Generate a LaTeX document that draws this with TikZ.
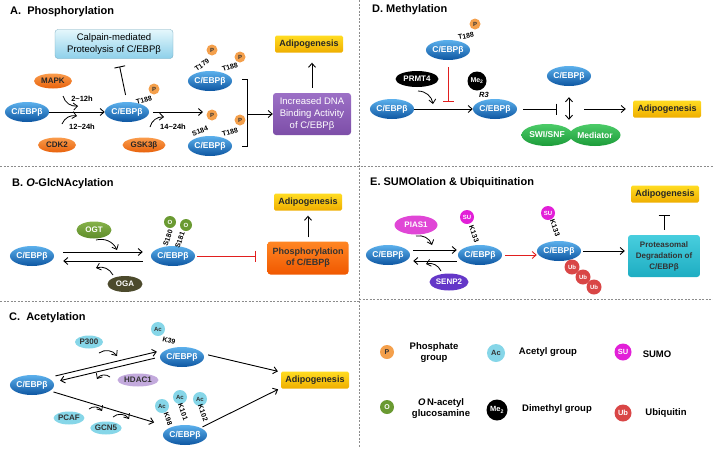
\documentclass[tikz,border=0pt]{standalone}
\usepackage{fontspec}
\setmainfont{Liberation Sans}
\usepackage{tikz}
\usetikzlibrary{positioning}
\usetikzlibrary{arrows.meta,shapes.geometric,calc}

% ------------------------------------------------
% Colours
\definecolor{cebpTop}{HTML}{5CB0EC}
\definecolor{cebpBot}{HTML}{0D56A2}
\definecolor{kinTop}{HTML}{FA9C4C}
\definecolor{kinBot}{HTML}{E8620C}
\definecolor{phosOr}{HTML}{F4A04C}
\definecolor{adiTop}{HTML}{FFDC22}
\definecolor{adiBot}{HTML}{EFAE00}
\definecolor{calTop}{HTML}{E4F7FC}
\definecolor{calBot}{HTML}{8DD0EA}
\definecolor{dnaTop}{HTML}{9C70C6}
\definecolor{dnaBot}{HTML}{7D4EA8}
\definecolor{phoTop}{HTML}{FF8624}
\definecolor{phoBot}{HTML}{F05800}
\definecolor{proTop}{HTML}{48CEDE}
\definecolor{proBot}{HTML}{1EADC2}
\definecolor{ogtTop}{HTML}{86B24A}
\definecolor{ogtBot}{HTML}{5E8C2A}
\definecolor{ogaOl}{HTML}{4C4A2C}
\definecolor{swiTop}{HTML}{4CCB68}
\definecolor{swiBot}{HTML}{1C9C3A}
\definecolor{piasMg}{HTML}{E046D6}
\definecolor{senpVi}{HTML}{6437C8}
\definecolor{suMg}{HTML}{E21FD8}
\definecolor{ubRed}{HTML}{D94646}
\definecolor{acCy}{HTML}{86D6E8}
\definecolor{hdacLv}{HTML}{C3AADD}
\definecolor{oGrn}{HTML}{6A9A32}
\definecolor{inhRed}{HTML}{E11F1F}
\definecolor{divGray}{HTML}{8C8C8C}

\tikzset{
	>={Straight Barb[length=4pt,width=7pt]},
	cebp/.style={ellipse, inner sep=0pt, minimum width=44pt, minimum height=20pt,
		top color=cebpTop, bottom color=cebpBot, text=white,
		font=\bfseries\fontsize{8.5}{9}\selectfont},
	enz/.style={ellipse, inner sep=0pt, minimum height=15pt,
		font=\bfseries\fontsize{8}{9}\selectfont},
	kinase/.style={enz, minimum width=38pt, top color=kinTop, bottom color=kinBot, text=black!85},
	acenz/.style={enz, minimum width=30pt, minimum height=13pt, fill=acCy, text=black!80},
	grp/.style={circle, inner sep=0pt, minimum size=11pt,
		font=\bfseries\fontsize{6}{6}\selectfont},
	pgrp/.style={grp, fill=phosOr, text=black!80},
	ogrp/.style={grp, minimum size=12pt, fill=oGrn, text=white},
	acgrp/.style={grp, minimum size=14pt, fill=acCy, text=black!80},
	sugrp/.style={grp, minimum size=14pt, fill=suMg, text=white},
	ubgrp/.style={grp, minimum size=15pt, fill=ubRed, text=white},
	megrp/.style={grp, minimum size=19pt, fill=black, text=white},
	site/.style={inner sep=0pt, font=\bfseries\fontsize{7}{8}\selectfont},
	tlabel/.style={inner sep=0pt, font=\bfseries\fontsize{7.5}{8}\selectfont},
	adipo/.style={rectangle, rounded corners=1.5pt, minimum width=68pt, minimum height=17pt,
		inner sep=0pt, top color=adiTop, bottom color=adiBot, text=black!85,
		font=\bfseries\fontsize{9}{10}\selectfont},
	boxed/.style={rectangle, rounded corners=3pt, align=center, inner sep=0pt},
	title/.style={anchor=west, inner sep=0pt, font=\bfseries\fontsize{11}{12}\selectfont},
	legtext/.style={align=center, inner sep=0pt, font=\bfseries\fontsize{9.5}{11}\selectfont},
	arr/.style={->, line width=0.9pt},
	arrred/.style={->, line width=0.9pt, inhRed},
	inh/.style={-{Bar[width=11pt,line width=0.9pt]}, line width=0.9pt},
	inhred/.style={inh, inhRed},
	cat/.style={->, line width=0.8pt},
	divider/.style={divGray, line width=0.7pt, dash pattern=on 2pt off 1.5pt},
}

\begin{document}
\begin{tikzpicture}[x=1pt, y=-1pt]

	% ------------------------------------------------
	% Ensure the dimensions of graphic are appropriate
	\useasboundingbox (0,0) rectangle (713,448);

	% ------------------------------------------------
	% Panel borders
	\draw[divider] (359,0) -- (359,448);
	\draw[divider] (0,166) -- (713,166);
	\draw[divider] (0,301) -- (359,301);
	\draw[divider] (359,299) -- (713,299);

	%%%%%%%%%%%%%%%%%%%%%%%%%%%%%%%%%%%%%%%%%
	% A. Phosphorylation
	\node[title] (titA) at (10,12) {A.\ \ Phosphorylation};

	\node[cebp] (cA1) at (27,112) {C/EBPβ};
	\node[cebp] (cA2) at (127,112) {C/EBPβ};
	\node[cebp] (cA3) at (210,81) {C/EBPβ};
	\node[cebp] (cA4) at (210,146) {C/EBPβ};

	\node[kinase] (mapk) at (53,81) {MAPK};
	\node[kinase] (cdk) at (57,145) {CDK2};
	\node[kinase, minimum width=43pt] (gsk) at (144,145) {GSK3β};

	\node[boxed, minimum width=118pt, minimum height=29pt, top color=calTop, bottom color=calBot,
		draw=calBot!80!black, line width=0.3pt, font=\fontsize{9.5}{11.5}\selectfont]
		(calp) at (114,44) {Calpain-mediated\\Proteolysis of C/EBPβ};
	\node[boxed, minimum width=78pt, minimum height=42pt, top color=dnaTop, bottom color=dnaBot,
		text=white, font=\fontsize{9.5}{12}\selectfont]
		(dna) at (312,114) {Increased DNA\\Binding Activity\\of C/EBPβ};
	\node[adipo] (adA) at (309,44) {Adipogenesis};

	% ----------------
	% Phosphate groups
	\node[pgrp] (pA2) at (154,89) {P};
	\node[site, rotate=15] (tA2) at (144,100) {T188};
	\node[pgrp] (pA3a) at (212,50) {P};
	\node[pgrp] (pA3b) at (240,57) {P};
	\node[site, rotate=35] (tA3a) at (202,65) {T179};
	\node[site, rotate=18] (tA3b) at (230,67) {T188};
	\node[pgrp] (pA4a) at (212,115) {P};
	\node[pgrp] (pA4b) at (240,120) {P};
	\node[site, rotate=20] (tA4a) at (200,131) {S184};
	\node[site, rotate=15] (tA4b) at (230,132) {T188};

	% ----------------
	% Time labels
	\node[tlabel] (hA1) at (82,99) {2\textasciitilde12h};
	\node[tlabel] (hA2) at (82,127) {12\textasciitilde24h};
	\node[tlabel] (hA3) at (173,127) {14\textasciitilde24h};

	% ----------------
	% Connectors
	\coordinate (mapkS) at (63,96);
	\coordinate (mapkE) at (78,106);
	\coordinate (cdkS) at (62,124);
	\coordinate (cdkE) at (77,116);
	\coordinate (gskS) at (150,127);
	\coordinate (gskE) at (164,117);
	\coordinate (forkA) at (203,112);
	\coordinate (brT) at (247,79);
	\coordinate (brB) at (247,146);

	\draw[arr] (cA1.east) -- (cA2.west);
	\draw[cat] (mapkS) to[bend right=40] (mapkE);
	\draw[cat] (cdkS) to[bend left=40] (cdkE);
	\draw[cat] (gskS) to[bend left=40] (gskE);
	\draw[inh, shorten <=7pt, shorten >=8pt] (cA2.north) -- ([xshift=4pt]calp.south);
	\draw[arr, shorten <=4pt] (cA2.east) -- (forkA);
	\draw[line width=0.9pt] (242,79) -- (brT) -- (brB) -- (242,146);
	\draw[arr] (brT |- dna) -- (dna.west);
	\draw[arr, shorten <=5pt, shorten >=10pt] (dna.north) -- (dna.north |- adA.south);

	%%%%%%%%%%%%%%%%%%%%%%%%%%%%%%%%%%%%%%%%%
	% B. O-GlcNAcylation
	\node[title] (titB) at (12,184) {B. \textit{O}-GlcNAcylation};

	\node[cebp] (cB1) at (32,256) {C/EBPβ};
	\node[cebp] (cB2) at (173,256) {C/EBPβ};
	\node[enz, minimum width=35pt, minimum height=17pt, top color=ogtTop, bottom color=ogtBot,
		text=white] (ogt) at (94,230) {OGT};
	\node[enz, minimum width=35pt, minimum height=16pt, fill=ogaOl, text=white] (oga) at (125,284) {OGA};

	\node[ogrp] (oB1) at (170,222) {O};
	\node[ogrp] (oB2) at (186,225) {O};
	\node[site, rotate=70] (sB1) at (168,238) {S180};
	\node[site, rotate=70] (sB2) at (180,240) {S181};

	\node[boxed, minimum width=81pt, minimum height=33pt, top color=phoTop, bottom color=phoBot,
		text=black!80, font=\bfseries\fontsize{9}{11}\selectfont]
		(phos) at (308,258) {Phosphorylation\\of C/EBPβ};
	\node[adipo] (adB) at (308,202) {Adipogenesis};

	\coordinate (ogtS) at (96,240);
	\coordinate (ogtE) at (117,250);
	\coordinate (ogaS) at (113,275);
	\coordinate (ogaE) at (96,268);

	\draw[arr, shorten <=9pt, shorten >=8pt] ([yshift=4pt]cB1.east) -- ([yshift=4pt]cB2.west);
	\draw[arr, shorten <=8pt, shorten >=9pt] ([yshift=-5pt]cB2.west) -- ([yshift=-5pt]cB1.east);
	\draw[cat] (ogtS) to[bend left=40] (ogtE);
	\draw[cat] (ogaS) to[bend right=40] (ogaE);
	\draw[inhred, shorten <=2pt, shorten >=11pt] (cB2.east) -- (cB2.east -| phos.west);
	\draw[arr, shorten <=4pt, shorten >=5pt] (phos.north) -- (adB.south);

	%%%%%%%%%%%%%%%%%%%%%%%%%%%%%%%%%%%%%%%%%
	% C. Acetylation
	\node[title] (titC) at (9,318) {C.\ \ Acetylation};

	\node[cebp] (cC1) at (32,385) {C/EBPβ};
	\node[cebp] (cC2) at (182,357) {C/EBPβ};
	\node[cebp] (cC3) at (185,435) {C/EBPβ};

	\node[acenz, minimum width=28pt] (p300) at (89,342) {P300};
	\node[acenz, minimum width=41pt, fill=hdacLv] (hdac) at (138,380) {HDAC1};
	\node[acenz] (pcaf) at (69,418) {PCAF};
	\node[acenz] (gcn) at (106,428) {GCN5};

	\node[acgrp] (aC2) at (158,329) {Ac};
	\node[site, rotate=-15] (kC2) at (169,341) {K39};
	\node[acgrp] (aC3a) at (162,406) {Ac};
	\node[acgrp] (aC3b) at (180,397) {Ac};
	\node[acgrp] (aC3c) at (200,399) {Ac};
	\node[site, rotate=-70] (kC3a) at (168,419) {K98};
	\node[site, rotate=-70] (kC3b) at (183,412) {K101};
	\node[site, rotate=-70] (kC3c) at (203,413) {K102};

	\node[adipo] (adC) at (315,380) {Adipogenesis};

	\coordinate (p300S) at (99,353);
	\coordinate (p300E) at (117,356);
	\coordinate (hdacS) at (110,377);
	\coordinate (hdacE) at (97,379);
	\coordinate (pcafS) at (89,409);
	\coordinate (pcafE) at (102,411);
	\coordinate (gcnS) at (113,417);
	\coordinate (gcnE) at (129,419);

	\draw[arr, shorten <=8pt, shorten >=3pt] (cC1.north east) -- ([yshift=6pt]cC2.west);
	\draw[arr, shorten <=5pt, shorten >=6pt] (cC2.west) -- ([yshift=3pt]cC1.east);
	\draw[arr, shorten <=6pt, shorten >=9pt] ([yshift=2pt]cC1.south east) -- ([yshift=10pt]cC3.west);
	\draw[cat] (p300S) to[bend left=45] (p300E);
	\draw[cat] (hdacS) to[bend right=50] (hdacE);
	\draw[cat] (pcafS) to[bend left=50] (pcafE);
	\draw[cat] (gcnS) to[bend left=50] (gcnE);
	\draw[arr, shorten <=4pt, shorten >=3pt] ([yshift=3pt]cC2.east) -- ([yshift=8pt]adC.west);
	\draw[arr, shorten <=2pt, shorten >=3pt] (cC3.north east) -- ([yshift=-8pt]adC.west);

	%%%%%%%%%%%%%%%%%%%%%%%%%%%%%%%%%%%%%%%%%
	% D. Methylation
	\node[title] (titD) at (372,10) {D. Methylation};

	\node[cebp] (cD1) at (448,50) {C/EBPβ};
	\node[cebp] (cD2) at (392,109) {C/EBPβ};
	\node[cebp] (cD3) at (495,109) {C/EBPβ};
	\node[cebp] (cD4) at (569,76) {C/EBPβ};

	\node[pgrp] (pD1) at (475,24) {P};
	\node[site, rotate=10] (tD1) at (466,36) {T188};
	\node[enz, minimum width=43pt, minimum height=16pt, fill=black, text=white] (prmt) at (417,79) {PRMT4};
	\node[megrp, font=\bfseries\fontsize{7}{7}\selectfont] (meD) at (477,81) {Me\textsubscript{2}};
	\node[site, font=\bfseries\itshape\fontsize{7.5}{8}\selectfont] (rD) at (484,95) {R3};

	\node[enz, minimum width=51pt, minimum height=22pt, top color=swiTop, bottom color=swiBot,
		text=white, font=\bfseries\fontsize{8.5}{9}\selectfont] (swi) at (547,135) {SWI/SNF};
	\node[enz, minimum width=51pt, minimum height=22pt, top color=swiTop, bottom color=swiBot,
		text=white, font=\bfseries\fontsize{8.5}{9}\selectfont] (med) at (595,135) {Mediator};
	\node[adipo] (adD) at (667,109) {Adipogenesis};

	\coordinate (prmtS) at (418,91);
	\coordinate (prmtE) at (433,104);
	\coordinate (dBlk) at (448,102);
	\coordinate (dStop) at (557,109);
	\coordinate (dGo) at (584,109);

	\draw[arr] (cD2.east) -- (cD3.west);
	\draw[cat] (prmtS) to[bend left=40] (prmtE);
	\draw[inhred, shorten <=7pt] (cD1.south) -- (dBlk);
	\draw[inh, shorten <=6pt] (cD3.east) -- (dStop);
	\draw[<->, line width=0.9pt, shorten <=11pt, shorten >=4pt] (cD4.south) -- (cD4.south |- swi.north);
	\draw[arr, shorten >=7pt] (dGo) -- (adD.west);

	%%%%%%%%%%%%%%%%%%%%%%%%%%%%%%%%%%%%%%%%%
	% E. SUMOlation & Ubiquitination
	\node[title] (titE) at (370,183) {E. SUMOlation \& Ubiquitination};

	\node[cebp] (cE1) at (388,255) {C/EBPβ};
	\node[cebp] (cE2) at (480,255) {C/EBPβ};
	\node[cebp] (cE3) at (559,251) {C/EBPβ};

	\node[enz, minimum width=43pt, minimum height=19pt, fill=piasMg, text=white] (pias) at (416,225) {PIAS1};
	\node[enz, minimum width=39pt, minimum height=17pt, fill=senpVi, text=white] (senp) at (449,282) {SENP2};

	\node[sugrp] (suE2) at (467,217) {SU};
	\node[site, rotate=-70] (kE2) at (474,234) {K133};
	\node[sugrp] (suE3) at (548,213) {SU};
	\node[site, rotate=-70] (kE3) at (555,228) {K133};
	\node[ubgrp] (ub1) at (572,267) {Ub};
	\node[ubgrp] (ub2) at (583,277) {Ub};
	\node[ubgrp] (ub3) at (594,287) {Ub};

	\node[boxed, minimum width=72pt, minimum height=42pt, top color=proTop, bottom color=proBot,
		text=black!80, font=\bfseries\fontsize{8}{11}\selectfont]
		(prot) at (664,256) {Proteasomal\\Degradation of\\C/EBPβ};
	\node[adipo] (adE) at (665,194) {Adipogenesis};

	\coordinate (piasS) at (416,236);
	\coordinate (piasE) at (432,245);
	\coordinate (senpS) at (441,271);
	\coordinate (senpE) at (426,264);

	\draw[arr, shorten <=3pt, shorten >=1pt] ([yshift=5pt]cE1.east) -- ([yshift=5pt]cE2.west);
	\draw[arr, shorten <=1pt, shorten >=3pt] ([yshift=-6pt]cE2.west) -- ([yshift=-6pt]cE1.east);
	\draw[cat] (piasS) to[bend left=40] (piasE);
	\draw[cat] (senpS) to[bend right=40] (senpE);
	\draw[arrred, shorten <=3pt] (cE2.east) -- (cE2.east -| cE3.west);
	\draw[arr, shorten <=2pt, shorten >=3pt] (cE3.east) -- (cE3.east -| prot.west);
	\draw[inh, shorten <=5pt, shorten >=12pt] (prot.north) -- (prot.north |- adE.south);

	%%%%%%%%%%%%%%%%%%%%%%%%%%%%%%%%%%%%%%%%%
	% Legend
	\node[pgrp, minimum size=14pt, font=\bfseries\fontsize{7}{7}\selectfont] (lgP) at (387,352) {P};
	\node[legtext] (lgPt) at (434,353) {Phosphate\\group};
	\node[acgrp, minimum size=18pt, font=\bfseries\fontsize{7.5}{7}\selectfont] (lgAc) at (496,353) {Ac};
	\node[legtext] (lgAct) at (548,352) {Acetyl group};
	\node[sugrp, minimum size=17pt, font=\bfseries\fontsize{7.5}{7}\selectfont] (lgSu) at (623,352) {SU};
	\node[legtext] (lgSut) at (657,354) {SUMO};
	\node[ogrp, minimum size=14pt, font=\bfseries\fontsize{7}{7}\selectfont] (lgO) at (387,407) {O};
	\node[legtext] (lgOt) at (441,409) {\textit{O}\,N-acetyl\\glucosamine};
	\node[megrp, minimum size=21pt, font=\bfseries\fontsize{7.5}{7}\selectfont] (lgMe) at (497,410) {Me\textsubscript{2}};
	\node[legtext] (lgMet) at (557,409) {Dimethyl group};
	\node[ubgrp, minimum size=17pt, font=\bfseries\fontsize{7.5}{7}\selectfont] (lgUb) at (623,413) {Ub};
	\node[legtext] (lgUbt) at (666,413) {Ubiquitin};

\end{tikzpicture}
\end{document}
